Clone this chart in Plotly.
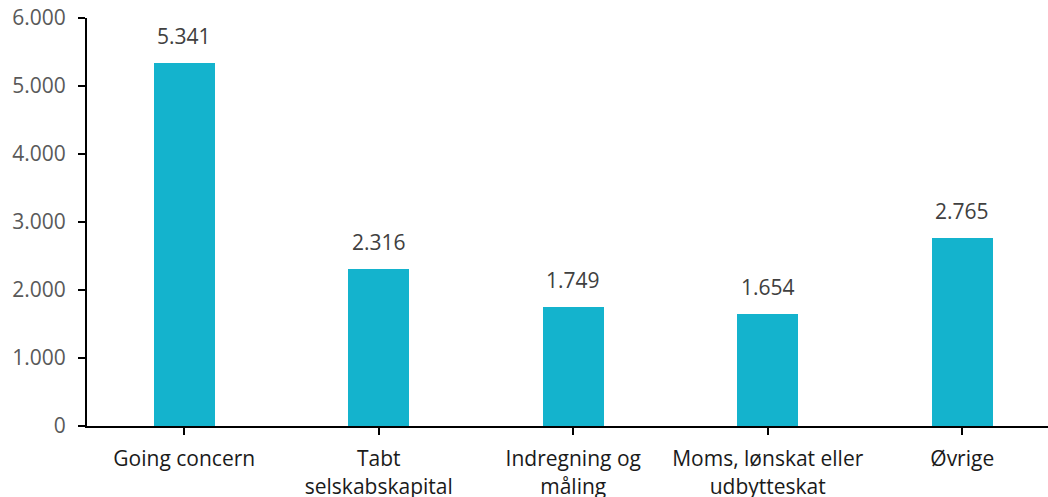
import plotly.graph_objects as go

categories = ["Going concern", "Tabt<br>selskabskapital", "Indregning og<br>måling",
              "Moms, lønskat eller<br>udbytteskat", "Øvrige"]
values = [5341, 2316, 1749, 1654, 2765]
y_ticks = [0, 1000, 2000, 3000, 4000, 5000, 6000]

BAR_COLOR = "#14B3CD"
FONT = "Open Sans"


def dk(n):
    return f"{n:,}".replace(",", ".")


x_idx = list(range(len(categories)))

fig = go.Figure(
    go.Bar(x=x_idx, y=values, marker=dict(color=BAR_COLOR, line=dict(width=0)), width=0.316)
)

for i, v in zip(x_idx, values):
    fig.add_annotation(x=i, y=v, text=dk(v), showarrow=False, yanchor="bottom",
                       yshift=11, font=dict(family=FONT, size=21, color="#404040"))

fig.update_layout(
    width=1048, height=497,
    margin=dict(l=87, r=0, t=18, b=71),
    plot_bgcolor="white", paper_bgcolor="white",
    separators=",.",
    showlegend=False,
    bargap=0,
)
fig.update_xaxes(
    range=[-0.5, -0.5 + 961 / 194.5],
    tickmode="array", tickvals=x_idx, ticktext=categories,
    tickson="boundaries", ticks="outside", ticklen=7, tickwidth=2, tickcolor="black",
    showline=True, linecolor="black", linewidth=2,
    showgrid=False, zeroline=False, automargin=False,
    ticklabelstandoff=6,
    tickfont=dict(family=FONT, size=21, color="#1a1a1a"),
)
fig.update_yaxes(
    range=[0, 6000],
    tickmode="array", tickvals=y_ticks, ticktext=[dk(t) for t in y_ticks],
    ticks="outside", ticklen=7, tickwidth=2, tickcolor="black",
    showline=True, linecolor="black", linewidth=2,
    showgrid=False, zeroline=False, automargin=False,
    ticklabelstandoff=8,
    tickfont=dict(family=FONT, size=21, color="#595959"),
)

fig.write_html("out.html")
